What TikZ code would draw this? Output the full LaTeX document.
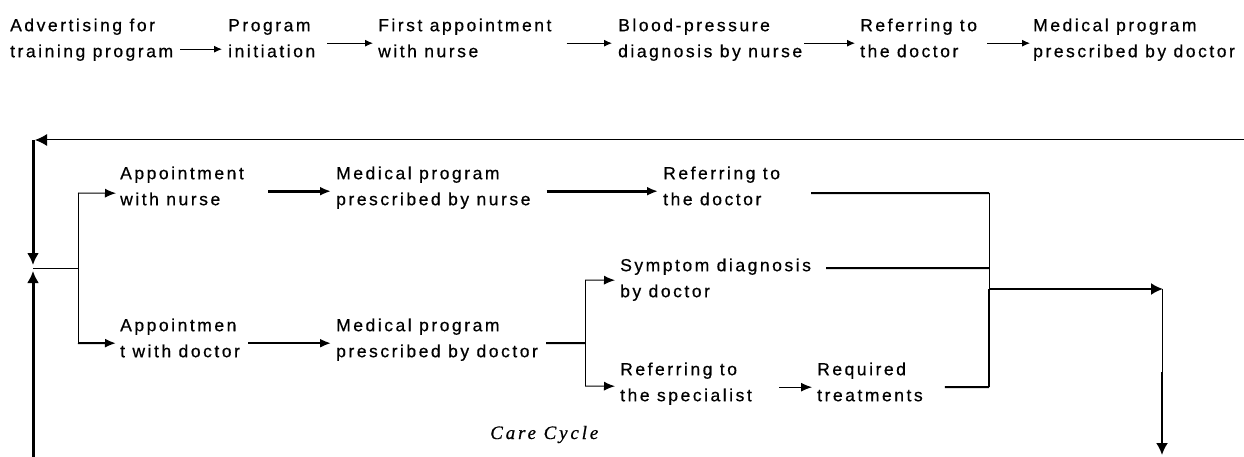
\documentclass[tikz,border=0pt]{standalone}
\usepackage{fontspec}
\usetikzlibrary{arrows.meta}
\newfontfamily\tfont[LetterSpace=14.5,FakeBold=0.6]{Liberation Sans}
\newfontfamily\cfont[LetterSpace=15,FakeBold=0.6]{Liberation Serif}
\newcommand\two[2]{\rule{0pt}{13pt}#1\\#2\rule[-5pt]{0pt}{5pt}}
\tikzset{
  tx/.style={font=\tfont\fontsize{17.5pt}{26pt}\selectfont, align=left, inner sep=0pt, anchor=north west},
  thinln/.style={line width=1pt},
  medln/.style={line width=2pt},
  thickln/.style={line width=3pt},
  arr/.style={-{Latex[length=8pt,width=7pt]}},
  arrb/.style={-{Latex[length=11pt,width=9pt]}},
  arrbig/.style={-{Latex[length=12pt,width=12pt]}},
}
\begin{document}
\begin{tikzpicture}[x=1pt,y=-1pt]
\useasboundingbox[fill=white] (0,0) rectangle (1244,457);
% top row
\node[tx] (adv)  at (10,18)   {\two{Advertising for}{training program}};
\node[tx] (init) at (228,18)  {\two{Program}{initiation}};
\node[tx] (first) at (378,18) {\two{First appointment}{with nurse}};
\node[tx] (bp)   at (618,18)  {\two{Blood-pressure}{diagnosis by nurse}};
\node[tx] (ref1) at (860,18)  {\two{Referring to}{the doctor}};
\node[tx] (med1) at (1033,18) {\two{Medical program}{prescribed by doctor}};
\draw[thinln,arr] ([xshift=7pt,yshift=-9pt]adv.east) -- ([xshift=-6pt,yshift=-9pt]init.west);
\draw[thinln,arr] ([xshift=12pt,yshift=-3pt]init.east) -- ([xshift=-5pt,yshift=-3pt]first.west);
\draw[thinln,arr] ([xshift=15pt,yshift=-3pt]first.east) -- ([xshift=-6pt,yshift=-3pt]bp.west);
\draw[thinln,arr] ([xshift=2pt,yshift=-3pt]bp.east) -- ([xshift=-5pt,yshift=-3pt]ref1.west);
\draw[thinln,arr] ([xshift=10pt,yshift=-3pt]ref1.east) -- ([xshift=-3pt,yshift=-3pt]med1.west);
% care cycle nodes
\node[tx] (apn)  at (120,166) {\two{Appointment}{with nurse}};
\node[tx] (mpn)  at (336,166) {\two{Medical program}{prescribed by nurse}};
\node[tx] (refd) at (663,166) {\two{Referring to}{the doctor}};
\node[tx] (sym)  at (620,258) {\two{Symptom diagnosis}{by doctor}};
\node[tx] (apd)  at (120,318) {\two{Appointmen}{t with doctor}};
\node[tx] (mpd)  at (336,318) {\two{Medical program}{prescribed by doctor}};
\node[tx] (refs) at (620,362) {\two{Referring to}{the specialist}};
\node[tx] (req)  at (817,362) {\two{Required}{treatments}};
\node[anchor=base west, inner sep=0pt, font=\cfont\itshape\fontsize{19pt}{21pt}\selectfont] (care) at (490,439) {Care Cycle};
% coordinates
\coordinate (Rt) at (1244,140);
\coordinate (TL) at (33,140);
\coordinate (Jd) at (33,265);
\coordinate (J)  at (33,268);
\coordinate (Ju) at (33,271);
\coordinate (Bo) at (33,457);
\coordinate (S)  at (78,268);
\coordinate (Sn) at (78,193);
\coordinate (Sd) at (78,343);
\coordinate (Rn) at (989,193);
\coordinate (Rs) at (989,268);
\coordinate (M)  at (989,289);
\coordinate (Rr) at (989,387);
\coordinate (Dn) at (1162,289);
\coordinate (D1) at (1162,372);
\coordinate (De) at (1162,455);
\coordinate (Bm) at (585,343);
\coordinate (Bt) at (585,280);
\coordinate (Bb) at (585,386);
% loop
\draw[thinln,arrbig] (Rt) -- ([xshift=2pt]TL);
\draw[thickln,arrbig] (TL) -- (Jd);
\draw[thickln,arrbig] (Bo) -- (Ju);
\draw[thinln] (J) -- (S);
\draw[thinln] (Sn) -- (Sd);
\draw[thinln,arrb] (Sn) -- ([xshift=-4pt,yshift=-5pt]apn.west);
\draw[medln,arrb] (Sd) -- ([xshift=-4pt,yshift=-3pt]apd.west);
% nurse row
\draw[thickln,arrb] ([xshift=24pt,yshift=-3pt]apn.east) -- ([xshift=-5pt,yshift=-3pt]mpn.west);
\draw[thickln,arrb] ([xshift=16pt,yshift=-3pt]mpn.east) -- ([xshift=-5pt,yshift=-3pt]refd.west);
\draw[medln] ([xshift=31pt,yshift=-5pt]refd.east) -- (Rn);
% doctor row
\draw[medln,arrb] ([xshift=8pt,yshift=-3pt]apd.east) -- ([xshift=-5pt,yshift=-3pt]mpd.west);
\draw[medln] ([xshift=8pt,yshift=-3pt]mpd.east) -- (Bm);
\draw[thinln] (Bt) -- (Bb);
\draw[thinln,arrb] (Bt) -- ([xshift=-5pt]sym.west);
\draw[thinln,arrb] (Bb) -- ([xshift=-5pt,yshift=-2pt]refs.west);
\draw[thinln,arrb] ([xshift=27pt,yshift=-3pt]refs.east) -- ([xshift=-5pt,yshift=-3pt]req.west);
\draw[medln] ([xshift=15pt,yshift=12pt]sym.east) -- (Rs);
\draw[medln] ([xshift=22pt,yshift=-3pt]req.east) -- (Rr);
% merge and exit
\draw[thinln] (Rn) -- (M);
\draw[medln] (M) -- (Rr);
\draw[medln,arrbig] (M) -- ([xshift=1pt]Dn);
\draw[thinln] (Dn) -- (D1);
\draw[medln,arrbig] (D1) -- (De);
\end{tikzpicture}
\end{document}
